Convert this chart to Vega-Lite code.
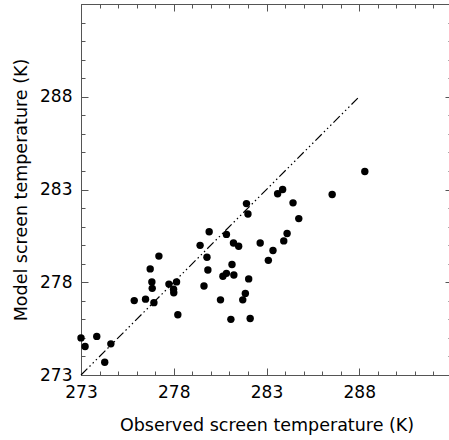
{
  "$schema": "https://vega.github.io/schema/vega-lite/v6.json",
  "width": 371,
  "height": 371,
  "autosize": "none",
  "padding": {"left": 81, "top": 4, "right": 0, "bottom": 65},
  "background": "white",
  "config": {
    "view": {"stroke": null},
    "font": "DejaVu Sans",
    "axis": {
      "domainColor": "#555",
      "tickColor": "#555",
      "labelColor": "black",
      "titleColor": "black",
      "labelFont": "DejaVu Sans",
      "titleFont": "DejaVu Sans",
      "labelFontSize": 17,
      "titleFontSize": 17.5,
      "titleFontWeight": "normal",
      "grid": false
    }
  },
  "datasets": {
    "obs": [
      {"obs": 273.0, "model": 275.0},
      {"obs": 273.22, "model": 274.54},
      {"obs": 273.85, "model": 275.08},
      {"obs": 274.61, "model": 274.68},
      {"obs": 274.28, "model": 273.69},
      {"obs": 275.87, "model": 277.01},
      {"obs": 276.48, "model": 277.09},
      {"obs": 276.93, "model": 276.9},
      {"obs": 276.73, "model": 278.72},
      {"obs": 276.82, "model": 278.02},
      {"obs": 276.84, "model": 277.67},
      {"obs": 277.2, "model": 279.41},
      {"obs": 277.74, "model": 277.9},
      {"obs": 277.99, "model": 277.62},
      {"obs": 278.0, "model": 277.43},
      {"obs": 278.15, "model": 278.02},
      {"obs": 278.22, "model": 276.25},
      {"obs": 281.92, "model": 282.24},
      {"obs": 282.0, "model": 281.68},
      {"obs": 279.91, "model": 280.72},
      {"obs": 280.84, "model": 280.58},
      {"obs": 279.42, "model": 279.99},
      {"obs": 281.22, "model": 280.12},
      {"obs": 281.5, "model": 279.94},
      {"obs": 282.66, "model": 280.12},
      {"obs": 279.79, "model": 279.35},
      {"obs": 283.1, "model": 279.18},
      {"obs": 281.14, "model": 278.96},
      {"obs": 279.84, "model": 278.66},
      {"obs": 280.84, "model": 278.48},
      {"obs": 280.65, "model": 278.32},
      {"obs": 281.24, "model": 278.39},
      {"obs": 282.04, "model": 278.18},
      {"obs": 279.63, "model": 277.8},
      {"obs": 281.86, "model": 277.4},
      {"obs": 280.52, "model": 277.05},
      {"obs": 281.72, "model": 277.05},
      {"obs": 281.08, "model": 276.0},
      {"obs": 282.12, "model": 276.05},
      {"obs": 288.3, "model": 283.97},
      {"obs": 286.54, "model": 282.73},
      {"obs": 283.87, "model": 283.0},
      {"obs": 283.6, "model": 282.77},
      {"obs": 284.43, "model": 282.28},
      {"obs": 284.74, "model": 281.43},
      {"obs": 284.11, "model": 280.63},
      {"obs": 283.93, "model": 280.23},
      {"obs": 283.35, "model": 279.71}
    ],
    "diag": [
      {"obs": 273, "model": 273},
      {"obs": 288, "model": 288}
    ]
  },
  "layer": [
    {
      "data": {"name": "obs"},
      "mark": {"type": "circle", "size": 55, "color": "black", "opacity": 1},
      "encoding": {
        "x": {
          "field": "obs", "type": "quantitative",
          "scale": {"domain": [273, 293], "nice": false, "zero": false},
          "axis": {"orient": "bottom", "values": [273, 278, 283, 288], "tickSize": -7, "labelPadding": 16, "title": "Observed screen temperature (K)", "titlePadding": 16, "labelFlush": false}
        },
        "y": {
          "field": "model", "type": "quantitative",
          "scale": {"domain": [273, 293], "nice": false, "zero": false},
          "axis": {"orient": "left", "values": [273, 278, 283, 288], "tickSize": -7, "labelPadding": 16, "title": "Model screen temperature (K)", "titlePadding": 9, "labelFlush": false}
        }
      }
    },
    {
      "data": {"name": "diag"},
      "mark": {"type": "line", "color": "black", "strokeWidth": 1.2, "strokeDash": [9, 3, 1.5, 3, 1.5, 3, 1.5, 3]},
      "encoding": {
        "x": {
          "field": "obs", "type": "quantitative",
          "axis": {"orient": "top", "values": [273, 278, 283, 288], "tickSize": -7, "labels": false, "title": null}
        },
        "y": {
          "field": "model", "type": "quantitative",
          "axis": {"orient": "right", "values": [273, 278, 283, 288], "tickSize": -7, "labels": false, "title": null}
        }
      }
    },
    {
      "data": {"name": "diag"},
      "mark": {"type": "line", "opacity": 0},
      "encoding": {
        "x": {
          "field": "obs", "type": "quantitative",
          "axis": {"orient": "bottom", "values": [273, 274, 275, 276, 277, 278, 279, 280, 281, 282, 283, 284, 285, 286, 287, 288, 289, 290, 291, 292, 293], "tickSize": -4, "labels": false, "domain": false, "title": null}
        },
        "y": {
          "field": "model", "type": "quantitative",
          "axis": {"orient": "left", "values": [273, 274, 275, 276, 277, 278, 279, 280, 281, 282, 283, 284, 285, 286, 287, 288, 289, 290, 291, 292, 293], "tickSize": -4, "labels": false, "domain": false, "title": null}
        }
      }
    },
    {
      "data": {"name": "diag"},
      "mark": {"type": "line", "opacity": 0},
      "encoding": {
        "x": {
          "field": "obs", "type": "quantitative",
          "axis": {"orient": "top", "values": [273, 274, 275, 276, 277, 278, 279, 280, 281, 282, 283, 284, 285, 286, 287, 288, 289, 290, 291, 292, 293], "tickSize": -4, "labels": false, "domain": false, "title": null}
        },
        "y": {
          "field": "model", "type": "quantitative",
          "axis": {"orient": "right", "values": [273, 274, 275, 276, 277, 278, 279, 280, 281, 282, 283, 284, 285, 286, 287, 288, 289, 290, 291, 292, 293], "tickSize": -4, "labels": false, "domain": false, "title": null}
        }
      }
    }
  ],
  "resolve": {"scale": {"x": "shared", "y": "shared"}, "axis": {"x": "independent", "y": "independent"}}
}
